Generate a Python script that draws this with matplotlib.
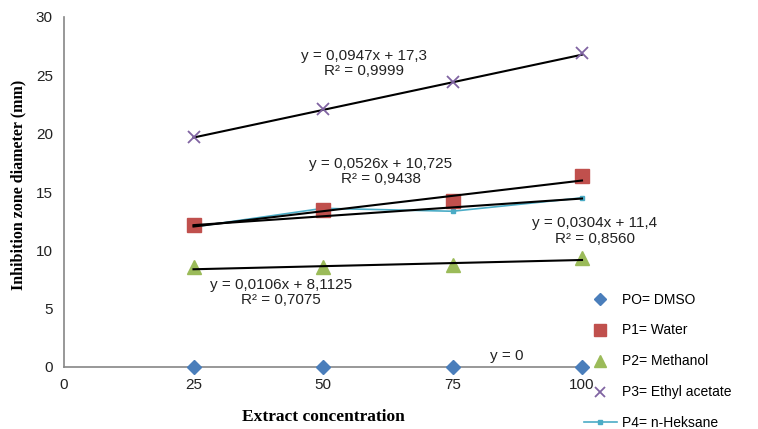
import matplotlib.pyplot as plt
from matplotlib.lines import Line2D
import numpy as np

# concentrations
conc = [25, 50, 75, 100]

# inhibition zone diameter (mm)
dmso = [0, 0, 0, 0]
water = [12.2, 13.5, 14.2, 16.4]
methanol = [8.55, 8.6, 8.75, 9.35]
ethyl = [19.7, 22.15, 24.45, 26.9]
heksane = [12.0, 13.6, 13.35, 14.5]

# trend line (slope, intercept) and labels
trends = {
    "dmso": (0.0, 0.0),
    "water": (0.0526, 10.725),
    "methanol": (0.0106, 8.1125),
    "ethyl": (0.0947, 17.3),
    "heksane": (0.0304, 11.4),
}
labels = ["PO= DMSO", "P1= Water", "P2= Methanol", "P3= Ethyl acetate", "P4= n-Heksane"]

c_blue = "#4a7ebb"
c_red = "#c0504d"
c_green = "#9bbb59"
c_purple = "#8064a2"
c_cyan = "#4bacc6"
sans = "Liberation Sans"
serif = "Liberation Serif"

fig = plt.figure(figsize=(7.58, 4.29), dpi=100)
ax = fig.add_axes([64 / 758, 62 / 429, 518 / 758, 350 / 429])

x = np.array(conc, dtype=float)
# trend lines first
for key in ["ethyl", "water", "heksane", "methanol"]:
    a, b = trends[key]
    ax.plot(x, a * x + b, color="black", lw=1.5, zorder=3, clip_on=False)

ax.plot(conc, heksane, color=c_cyan, lw=1.2, marker="s", ms=3.5, zorder=2, clip_on=False)
ax.plot(conc, dmso, ls="none", marker="D", color=c_blue, ms=7, zorder=5, clip_on=False)
ax.plot(conc, water, ls="none", marker="s", color=c_red, ms=10, zorder=2, clip_on=False)
ax.plot(conc, methanol, ls="none", marker="^", color=c_green, ms=10, zorder=2, clip_on=False)
ax.plot(conc, ethyl, ls="none", marker="x", color=c_purple, ms=9, mew=1.3, zorder=4, clip_on=False)

txt = dict(fontsize=11, family=sans, ha="center", va="center", color="#222222",
           linespacing=1.15, clip_on=False)
ax.text(57.9, 26.0, "y = 0,0947x + 17,3\nR² = 0,9999", **txt)
ax.text(61.2, 16.76, "y = 0,0526x + 10,725\nR² = 0,9438", **txt)
ax.text(102.5, 11.66, "y = 0,0304x + 11,4\nR² = 0,8560", **txt)
ax.text(41.9, 6.39, "y = 0,0106x + 8,1125\nR² = 0,7075", **txt)
ax.text(85.5, 0.94, "y = 0", **txt)

ax.set_xlim(0, 100)
ax.set_ylim(0, 30)
ax.set_xticks([0, 25, 50, 75, 100])
ax.set_yticks(range(0, 31, 5))
ax.tick_params(length=0, labelsize=11, colors="#222222", pad=8)
for lab in ax.get_xticklabels() + ax.get_yticklabels():
    lab.set_family(sans)
for s in ["top", "right"]:
    ax.spines[s].set_visible(False)
for s in ["left", "bottom"]:
    ax.spines[s].set_color("#868686")
    ax.spines[s].set_linewidth(1.2)

ax.set_xlabel("Extract concentration", family=serif, fontweight="bold", fontsize=12.5, labelpad=12)
ax.set_ylabel("Inhibition zone diameter (mm)", family=serif, fontweight="bold", fontsize=11.5)
ax.yaxis.set_label_coords(-0.072, 0.52)

handles = [
    Line2D([], [], ls="none", marker="D", color=c_blue, ms=6),
    Line2D([], [], ls="none", marker="s", color=c_red, ms=8),
    Line2D([], [], ls="none", marker="^", color=c_green, ms=8),
    Line2D([], [], ls="none", marker="x", color=c_purple, ms=7, mew=1.3),
    Line2D([], [], color=c_cyan, lw=1.2, marker="s", ms=3.5),
]
fig.legend(handles, labels, loc="upper left", bbox_to_anchor=(578 / 758, 1 - 287 / 429),
           frameon=False, prop={"family": sans, "size": 10}, labelspacing=1.22,
           handlelength=2.4, handletextpad=0.4, borderaxespad=0)

fig.savefig("out.png", dpi=100)
